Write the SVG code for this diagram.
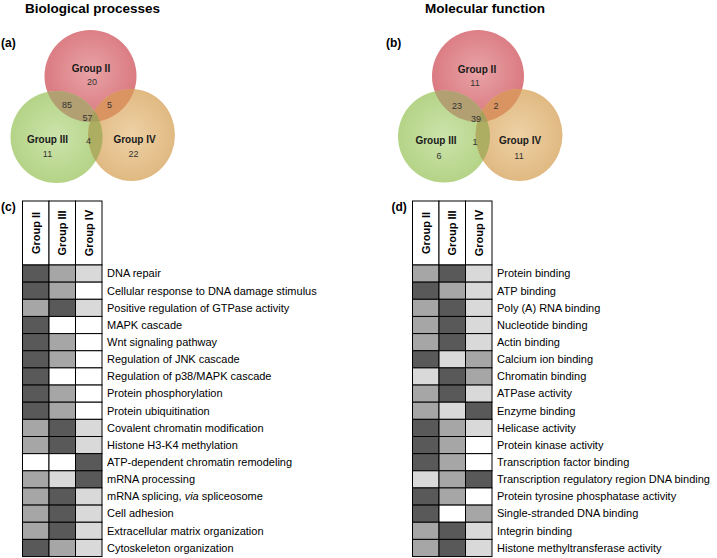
<svg xmlns="http://www.w3.org/2000/svg" width="717" height="558" viewBox="0 0 717 558">
<style>
text{font-family:"Liberation Sans",Arial,sans-serif;}
.title{font-size:13.5px;font-weight:bold;fill:#000;}
.pl{font-size:12px;font-weight:bold;fill:#000;}
.gl{font-size:10px;font-weight:bold;fill:#1a1a1a;text-anchor:middle;}
.num{font-size:9px;fill:#333;text-anchor:middle;}
.hd{font-size:11px;font-weight:bold;fill:#000;text-anchor:middle;}
.lab{font-size:11px;fill:#000;}
rect.c{stroke:#000;stroke-width:1;}
.d{fill:#595959;}.m{fill:#a6a6a6;}.l{fill:#d9d9d9;}.w{fill:#fff;}
.hb{fill:#fff;stroke:#000;stroke-width:1;}
</style>
<defs>
<radialGradient id="gR" cx="50%" cy="45%" r="55%"><stop offset="0" stop-color="#e8a3a6"/><stop offset="1" stop-color="#d9777e"/></radialGradient>
<radialGradient id="gG" cx="50%" cy="50%" r="55%"><stop offset="0" stop-color="#cce3ab"/><stop offset="1" stop-color="#b2d283"/></radialGradient>
<radialGradient id="gT" cx="50%" cy="50%" r="55%"><stop offset="0" stop-color="#eed1a6"/><stop offset="1" stop-color="#dfb77e"/></radialGradient>
<clipPath id="cRa"><circle cx="90.5" cy="76" r="46"/></clipPath>
<clipPath id="cGa"><circle cx="56.5" cy="137" r="46"/></clipPath>
<clipPath id="cRb"><circle cx="478" cy="76" r="46"/></clipPath>
<clipPath id="cGb"><circle cx="444" cy="136.5" r="46"/></clipPath>
</defs>

<text class="title" x="25" y="13">Biological processes</text>
<text class="title" x="425" y="13">Molecular function</text>
<text class="pl" x="1" y="47">(a)</text>
<text class="pl" x="386" y="47">(b)</text>
<text class="pl" x="1" y="211">(c)</text>
<text class="pl" x="391.5" y="211">(d)</text>

<!-- Venn (a) -->
<g id="venn-a-group2"><circle cx="90.5" cy="76" r="46" fill="url(#gR)"/></g>
<g id="venn-a-group3"><circle cx="56.5" cy="137" r="46" fill="url(#gG)"/></g>
<g id="venn-a-group4"><ellipse cx="131.5" cy="135" rx="43.5" ry="46" fill="url(#gT)"/></g>
<g id="venn-a-overlaps">
<circle cx="56.5" cy="137" r="46" fill="#b29f72" clip-path="url(#cRa)"/>
<ellipse cx="131.5" cy="135" rx="43.5" ry="46" fill="#da9462" clip-path="url(#cRa)"/>
<ellipse cx="131.5" cy="135" rx="43.5" ry="46" fill="#adae62" clip-path="url(#cGa)"/>
<g clip-path="url(#cRa)"><ellipse cx="131.5" cy="135" rx="43.5" ry="46" fill="#a59e5c" clip-path="url(#cGa)"/></g>
</g>
<g id="venn-a-labels">
<text class="gl" x="91" y="72">Group II</text>
<text class="num" x="92" y="85">20</text>
<text class="num" x="67" y="108">85</text>
<text class="num" x="109.5" y="108">5</text>
<text class="num" x="87.5" y="121">57</text>
<text class="gl" x="47.5" y="143">Group III</text>
<text class="num" x="88.5" y="144">4</text>
<text class="gl" x="134.5" y="143">Group IV</text>
<text class="num" x="47.5" y="157">11</text>
<text class="num" x="133.5" y="157">22</text>
</g>

<!-- Venn (b) -->
<g id="venn-b-group2"><circle cx="478" cy="76" r="46" fill="url(#gR)"/></g>
<g id="venn-b-group3"><circle cx="444" cy="136.5" r="46" fill="url(#gG)"/></g>
<g id="venn-b-group4"><ellipse cx="519" cy="135" rx="43.5" ry="46" fill="url(#gT)"/></g>
<g id="venn-b-overlaps">
<circle cx="444" cy="136.5" r="46" fill="#b29f72" clip-path="url(#cRb)"/>
<ellipse cx="519" cy="135" rx="43.5" ry="46" fill="#da9462" clip-path="url(#cRb)"/>
<ellipse cx="519" cy="135" rx="43.5" ry="46" fill="#adae62" clip-path="url(#cGb)"/>
<g clip-path="url(#cRb)"><ellipse cx="519" cy="135" rx="43.5" ry="46" fill="#a59e5c" clip-path="url(#cGb)"/></g>
</g>
<g id="venn-b-labels">
<text class="gl" x="477" y="73">Group II</text>
<text class="num" x="475" y="86">11</text>
<text class="num" x="457" y="109">23</text>
<text class="num" x="496" y="109">2</text>
<text class="num" x="476" y="122">39</text>
<text class="gl" x="436" y="144">Group III</text>
<text class="num" x="475" y="145">1</text>
<text class="gl" x="520" y="144">Group IV</text>
<text class="num" x="439" y="159">6</text>
<text class="num" x="519" y="159">11</text>
</g>

<!-- Heatmap (c) -->
<g id="heat-c-header">
<rect class="hb" x="22.5" y="201" width="26.5" height="64"/>
<rect class="hb" x="49" y="201" width="26.5" height="64"/>
<rect class="hb" x="75.5" y="201" width="26.5" height="64"/>
<text class="hd" transform="translate(39.7,233) rotate(-90)">Group II</text>
<text class="hd" transform="translate(66.2,233) rotate(-90)">Group III</text>
<text class="hd" transform="translate(92.7,233) rotate(-90)">Group IV</text>
</g>
<g id="heat-c">
<g transform="translate(0,265)"><rect class="c d" x="22.5" width="26.5" height="17.15"/><rect class="c m" x="49" width="26.5" height="17.15"/><rect class="c l" x="75.5" width="26.5" height="17.15"/><text class="lab" x="107" y="12.4">DNA repair</text></g>
<g transform="translate(0,282.15)"><rect class="c d" x="22.5" width="26.5" height="17.15"/><rect class="c m" x="49" width="26.5" height="17.15"/><rect class="c w" x="75.5" width="26.5" height="17.15"/><text class="lab" x="107" y="12.4">Cellular response to DNA damage stimulus</text></g>
<g transform="translate(0,299.3)"><rect class="c m" x="22.5" width="26.5" height="17.15"/><rect class="c d" x="49" width="26.5" height="17.15"/><rect class="c l" x="75.5" width="26.5" height="17.15"/><text class="lab" x="107" y="12.4">Positive regulation of GTPase activity</text></g>
<g transform="translate(0,316.45)"><rect class="c d" x="22.5" width="26.5" height="17.15"/><rect class="c w" x="49" width="26.5" height="17.15"/><rect class="c w" x="75.5" width="26.5" height="17.15"/><text class="lab" x="107" y="12.4">MAPK cascade</text></g>
<g transform="translate(0,333.6)"><rect class="c d" x="22.5" width="26.5" height="17.15"/><rect class="c m" x="49" width="26.5" height="17.15"/><rect class="c w" x="75.5" width="26.5" height="17.15"/><text class="lab" x="107" y="12.4">Wnt signaling pathway</text></g>
<g transform="translate(0,350.75)"><rect class="c d" x="22.5" width="26.5" height="17.15"/><rect class="c m" x="49" width="26.5" height="17.15"/><rect class="c w" x="75.5" width="26.5" height="17.15"/><text class="lab" x="107" y="12.4">Regulation of JNK cascade</text></g>
<g transform="translate(0,367.9)"><rect class="c d" x="22.5" width="26.5" height="17.15"/><rect class="c w" x="49" width="26.5" height="17.15"/><rect class="c w" x="75.5" width="26.5" height="17.15"/><text class="lab" x="107" y="12.4">Regulation of p38/MAPK cascade</text></g>
<g transform="translate(0,385.05)"><rect class="c d" x="22.5" width="26.5" height="17.15"/><rect class="c m" x="49" width="26.5" height="17.15"/><rect class="c w" x="75.5" width="26.5" height="17.15"/><text class="lab" x="107" y="12.4">Protein phosphorylation</text></g>
<g transform="translate(0,402.2)"><rect class="c d" x="22.5" width="26.5" height="17.15"/><rect class="c m" x="49" width="26.5" height="17.15"/><rect class="c w" x="75.5" width="26.5" height="17.15"/><text class="lab" x="107" y="12.4">Protein ubiquitination</text></g>
<g transform="translate(0,419.35)"><rect class="c m" x="22.5" width="26.5" height="17.15"/><rect class="c d" x="49" width="26.5" height="17.15"/><rect class="c l" x="75.5" width="26.5" height="17.15"/><text class="lab" x="107" y="12.4">Covalent chromatin modification</text></g>
<g transform="translate(0,436.5)"><rect class="c m" x="22.5" width="26.5" height="17.15"/><rect class="c d" x="49" width="26.5" height="17.15"/><rect class="c l" x="75.5" width="26.5" height="17.15"/><text class="lab" x="107" y="12.4">Histone H3-K4 methylation</text></g>
<g transform="translate(0,453.65)"><rect class="c w" x="22.5" width="26.5" height="17.15"/><rect class="c w" x="49" width="26.5" height="17.15"/><rect class="c d" x="75.5" width="26.5" height="17.15"/><text class="lab" x="107" y="12.4">ATP-dependent chromatin remodeling</text></g>
<g transform="translate(0,470.8)"><rect class="c m" x="22.5" width="26.5" height="17.15"/><rect class="c l" x="49" width="26.5" height="17.15"/><rect class="c d" x="75.5" width="26.5" height="17.15"/><text class="lab" x="107" y="12.4">mRNA processing</text></g>
<g transform="translate(0,487.95)"><rect class="c m" x="22.5" width="26.5" height="17.15"/><rect class="c d" x="49" width="26.5" height="17.15"/><rect class="c l" x="75.5" width="26.5" height="17.15"/><text class="lab" x="107" y="12.4">mRNA splicing, <tspan font-style="italic">via</tspan> spliceosome</text></g>
<g transform="translate(0,505.1)"><rect class="c m" x="22.5" width="26.5" height="17.15"/><rect class="c d" x="49" width="26.5" height="17.15"/><rect class="c l" x="75.5" width="26.5" height="17.15"/><text class="lab" x="107" y="12.4">Cell adhesion</text></g>
<g transform="translate(0,522.25)"><rect class="c m" x="22.5" width="26.5" height="17.15"/><rect class="c d" x="49" width="26.5" height="17.15"/><rect class="c l" x="75.5" width="26.5" height="17.15"/><text class="lab" x="107" y="12.4">Extracellular matrix organization</text></g>
<g transform="translate(0,539.4)"><rect class="c d" x="22.5" width="26.5" height="17.15"/><rect class="c m" x="49" width="26.5" height="17.15"/><rect class="c l" x="75.5" width="26.5" height="17.15"/><text class="lab" x="107" y="12.4">Cytoskeleton organization</text></g>
</g>

<!-- Heatmap (d) -->
<g id="heat-d-header">
<rect class="hb" x="412.5" y="201" width="26.5" height="64"/>
<rect class="hb" x="439" y="201" width="26.5" height="64"/>
<rect class="hb" x="465.5" y="201" width="26.5" height="64"/>
<text class="hd" transform="translate(429.7,233) rotate(-90)">Group II</text>
<text class="hd" transform="translate(456.2,233) rotate(-90)">Group III</text>
<text class="hd" transform="translate(482.7,233) rotate(-90)">Group IV</text>
</g>
<g id="heat-d">
<g transform="translate(0,265)"><rect class="c m" x="412.5" width="26.5" height="17.15"/><rect class="c d" x="439" width="26.5" height="17.15"/><rect class="c l" x="465.5" width="26.5" height="17.15"/><text class="lab" x="497" y="12.4">Protein binding</text></g>
<g transform="translate(0,282.15)"><rect class="c d" x="412.5" width="26.5" height="17.15"/><rect class="c m" x="439" width="26.5" height="17.15"/><rect class="c l" x="465.5" width="26.5" height="17.15"/><text class="lab" x="497" y="12.4">ATP binding</text></g>
<g transform="translate(0,299.3)"><rect class="c m" x="412.5" width="26.5" height="17.15"/><rect class="c d" x="439" width="26.5" height="17.15"/><rect class="c l" x="465.5" width="26.5" height="17.15"/><text class="lab" x="497" y="12.4">Poly (A) RNA binding</text></g>
<g transform="translate(0,316.45)"><rect class="c m" x="412.5" width="26.5" height="17.15"/><rect class="c d" x="439" width="26.5" height="17.15"/><rect class="c l" x="465.5" width="26.5" height="17.15"/><text class="lab" x="497" y="12.4">Nucleotide binding</text></g>
<g transform="translate(0,333.6)"><rect class="c m" x="412.5" width="26.5" height="17.15"/><rect class="c d" x="439" width="26.5" height="17.15"/><rect class="c l" x="465.5" width="26.5" height="17.15"/><text class="lab" x="497" y="12.4">Actin binding</text></g>
<g transform="translate(0,350.75)"><rect class="c d" x="412.5" width="26.5" height="17.15"/><rect class="c l" x="439" width="26.5" height="17.15"/><rect class="c m" x="465.5" width="26.5" height="17.15"/><text class="lab" x="497" y="12.4">Calcium ion binding</text></g>
<g transform="translate(0,367.9)"><rect class="c l" x="412.5" width="26.5" height="17.15"/><rect class="c d" x="439" width="26.5" height="17.15"/><rect class="c m" x="465.5" width="26.5" height="17.15"/><text class="lab" x="497" y="12.4">Chromatin binding</text></g>
<g transform="translate(0,385.05)"><rect class="c m" x="412.5" width="26.5" height="17.15"/><rect class="c d" x="439" width="26.5" height="17.15"/><rect class="c l" x="465.5" width="26.5" height="17.15"/><text class="lab" x="497" y="12.4">ATPase activity</text></g>
<g transform="translate(0,402.2)"><rect class="c m" x="412.5" width="26.5" height="17.15"/><rect class="c l" x="439" width="26.5" height="17.15"/><rect class="c d" x="465.5" width="26.5" height="17.15"/><text class="lab" x="497" y="12.4">Enzyme binding</text></g>
<g transform="translate(0,419.35)"><rect class="c d" x="412.5" width="26.5" height="17.15"/><rect class="c m" x="439" width="26.5" height="17.15"/><rect class="c l" x="465.5" width="26.5" height="17.15"/><text class="lab" x="497" y="12.4">Helicase activity</text></g>
<g transform="translate(0,436.5)"><rect class="c d" x="412.5" width="26.5" height="17.15"/><rect class="c m" x="439" width="26.5" height="17.15"/><rect class="c w" x="465.5" width="26.5" height="17.15"/><text class="lab" x="497" y="12.4">Protein kinase activity</text></g>
<g transform="translate(0,453.65)"><rect class="c d" x="412.5" width="26.5" height="17.15"/><rect class="c m" x="439" width="26.5" height="17.15"/><rect class="c w" x="465.5" width="26.5" height="17.15"/><text class="lab" x="497" y="12.4">Transcription factor binding</text></g>
<g transform="translate(0,470.8)"><rect class="c l" x="412.5" width="26.5" height="17.15"/><rect class="c m" x="439" width="26.5" height="17.15"/><rect class="c d" x="465.5" width="26.5" height="17.15"/><text class="lab" x="497" y="12.4">Transcription regulatory region DNA binding</text></g>
<g transform="translate(0,487.95)"><rect class="c d" x="412.5" width="26.5" height="17.15"/><rect class="c m" x="439" width="26.5" height="17.15"/><rect class="c w" x="465.5" width="26.5" height="17.15"/><text class="lab" x="497" y="12.4">Protein tyrosine phosphatase activity</text></g>
<g transform="translate(0,505.1)"><rect class="c d" x="412.5" width="26.5" height="17.15"/><rect class="c w" x="439" width="26.5" height="17.15"/><rect class="c m" x="465.5" width="26.5" height="17.15"/><text class="lab" x="497" y="12.4">Single-stranded DNA binding</text></g>
<g transform="translate(0,522.25)"><rect class="c m" x="412.5" width="26.5" height="17.15"/><rect class="c d" x="439" width="26.5" height="17.15"/><rect class="c l" x="465.5" width="26.5" height="17.15"/><text class="lab" x="497" y="12.4">Integrin binding</text></g>
<g transform="translate(0,539.4)"><rect class="c m" x="412.5" width="26.5" height="17.15"/><rect class="c d" x="439" width="26.5" height="17.15"/><rect class="c l" x="465.5" width="26.5" height="17.15"/><text class="lab" x="497" y="12.4">Histone methyltransferase activity</text></g>
</g>
<g id="connectors"/>
</svg>
